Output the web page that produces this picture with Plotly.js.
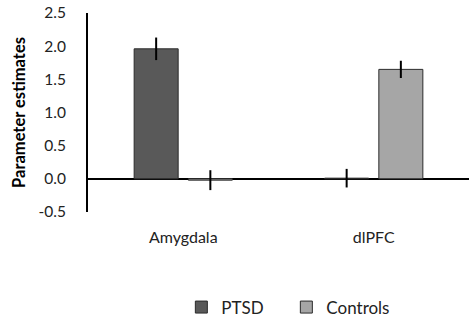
<!DOCTYPE html>
<html>
<head>
<meta charset="utf-8">
<script src="https://cdn.plot.ly/plotly-3.0.1.min.js"></script>
<style>html,body{margin:0;padding:0;background:#fff;}#chart{width:469px;height:321px;}</style>
</head>
<body>
<div id="chart"></div>
<script>
var categories = ["Amygdala", "dlPFC"];
var seriesNames = ["PTSD", "Controls"];
var ptsdValues = [1.96, 0.01];
var ptsdErrors = [0.17, 0.14];
var controlValues = [-0.02, 1.65];
var controlErrors = [0.15, 0.13];
var yTickValues = [-0.5, 0, 0.5, 1, 1.5, 2, 2.5];
var yTickLabels = ["-0.5", "0.0", "0.5", "1.0", "1.5", "2.0", "2.5"];

var font = "Lato, 'Open Sans', sans-serif";

var traces = [
  {
    type: "bar", name: seriesNames[0], x: categories, y: ptsdValues,
    marker: {color: "#595959", line: {color: "#2b2b2b", width: 1}},
    error_y: {type: "data", array: ptsdErrors, visible: true, color: "#000", thickness: 2, width: 0}
  },
  {
    type: "bar", name: seriesNames[1], x: categories, y: controlValues,
    marker: {color: "#a6a6a6", line: {color: "#2b2b2b", width: 1}},
    error_y: {type: "data", array: controlErrors, visible: true, color: "#000", thickness: 2, width: 0}
  }
];

var layout = {
  width: 469, height: 321,
  margin: {l: 88, r: 0, t: 13, b: 109, autoexpand: false},
  paper_bgcolor: "#fff", plot_bgcolor: "#fff",
  font: {family: font, size: 15, color: "#222"},
  barmode: "group",
  bargap: 0.431,
  bargroupgap: 0.188,
  showlegend: true,
  legend: {
    orientation: "h", x: 0.245, xanchor: "left", y: -0.48, yanchor: "middle",
    font: {family: font, size: 17, color: "#222"},
    itemwidth: 30, traceorder: "normal", entrywidth: 60
  },
  xaxis: {
    automargin: false,
    showline: false, showgrid: false, zeroline: false,
    ticks: "", ticklabelstandoff: 14,
    tickfont: {family: font, size: 16, color: "#222"}
  },
  yaxis: {
    automargin: false,
    range: [-0.5, 2.5], autorange: false,
    tickvals: yTickValues, ticktext: yTickLabels,
    showgrid: false, showline: true, linecolor: "#000", linewidth: 2,
    zeroline: true, zerolinecolor: "#000", zerolinewidth: 2,
    ticks: "", ticklabelstandoff: 17,
    tickfont: {family: font, size: 15.5, color: "#222"},
    title: {text: "<b>Parameter estimates</b>", font: {family: font, size: 16.5, color: "#000"}, standoff: 9}
  }
};

Plotly.newPlot("chart", traces, layout, {displayModeBar: false, staticPlot: true});
</script>
</body>
</html>
